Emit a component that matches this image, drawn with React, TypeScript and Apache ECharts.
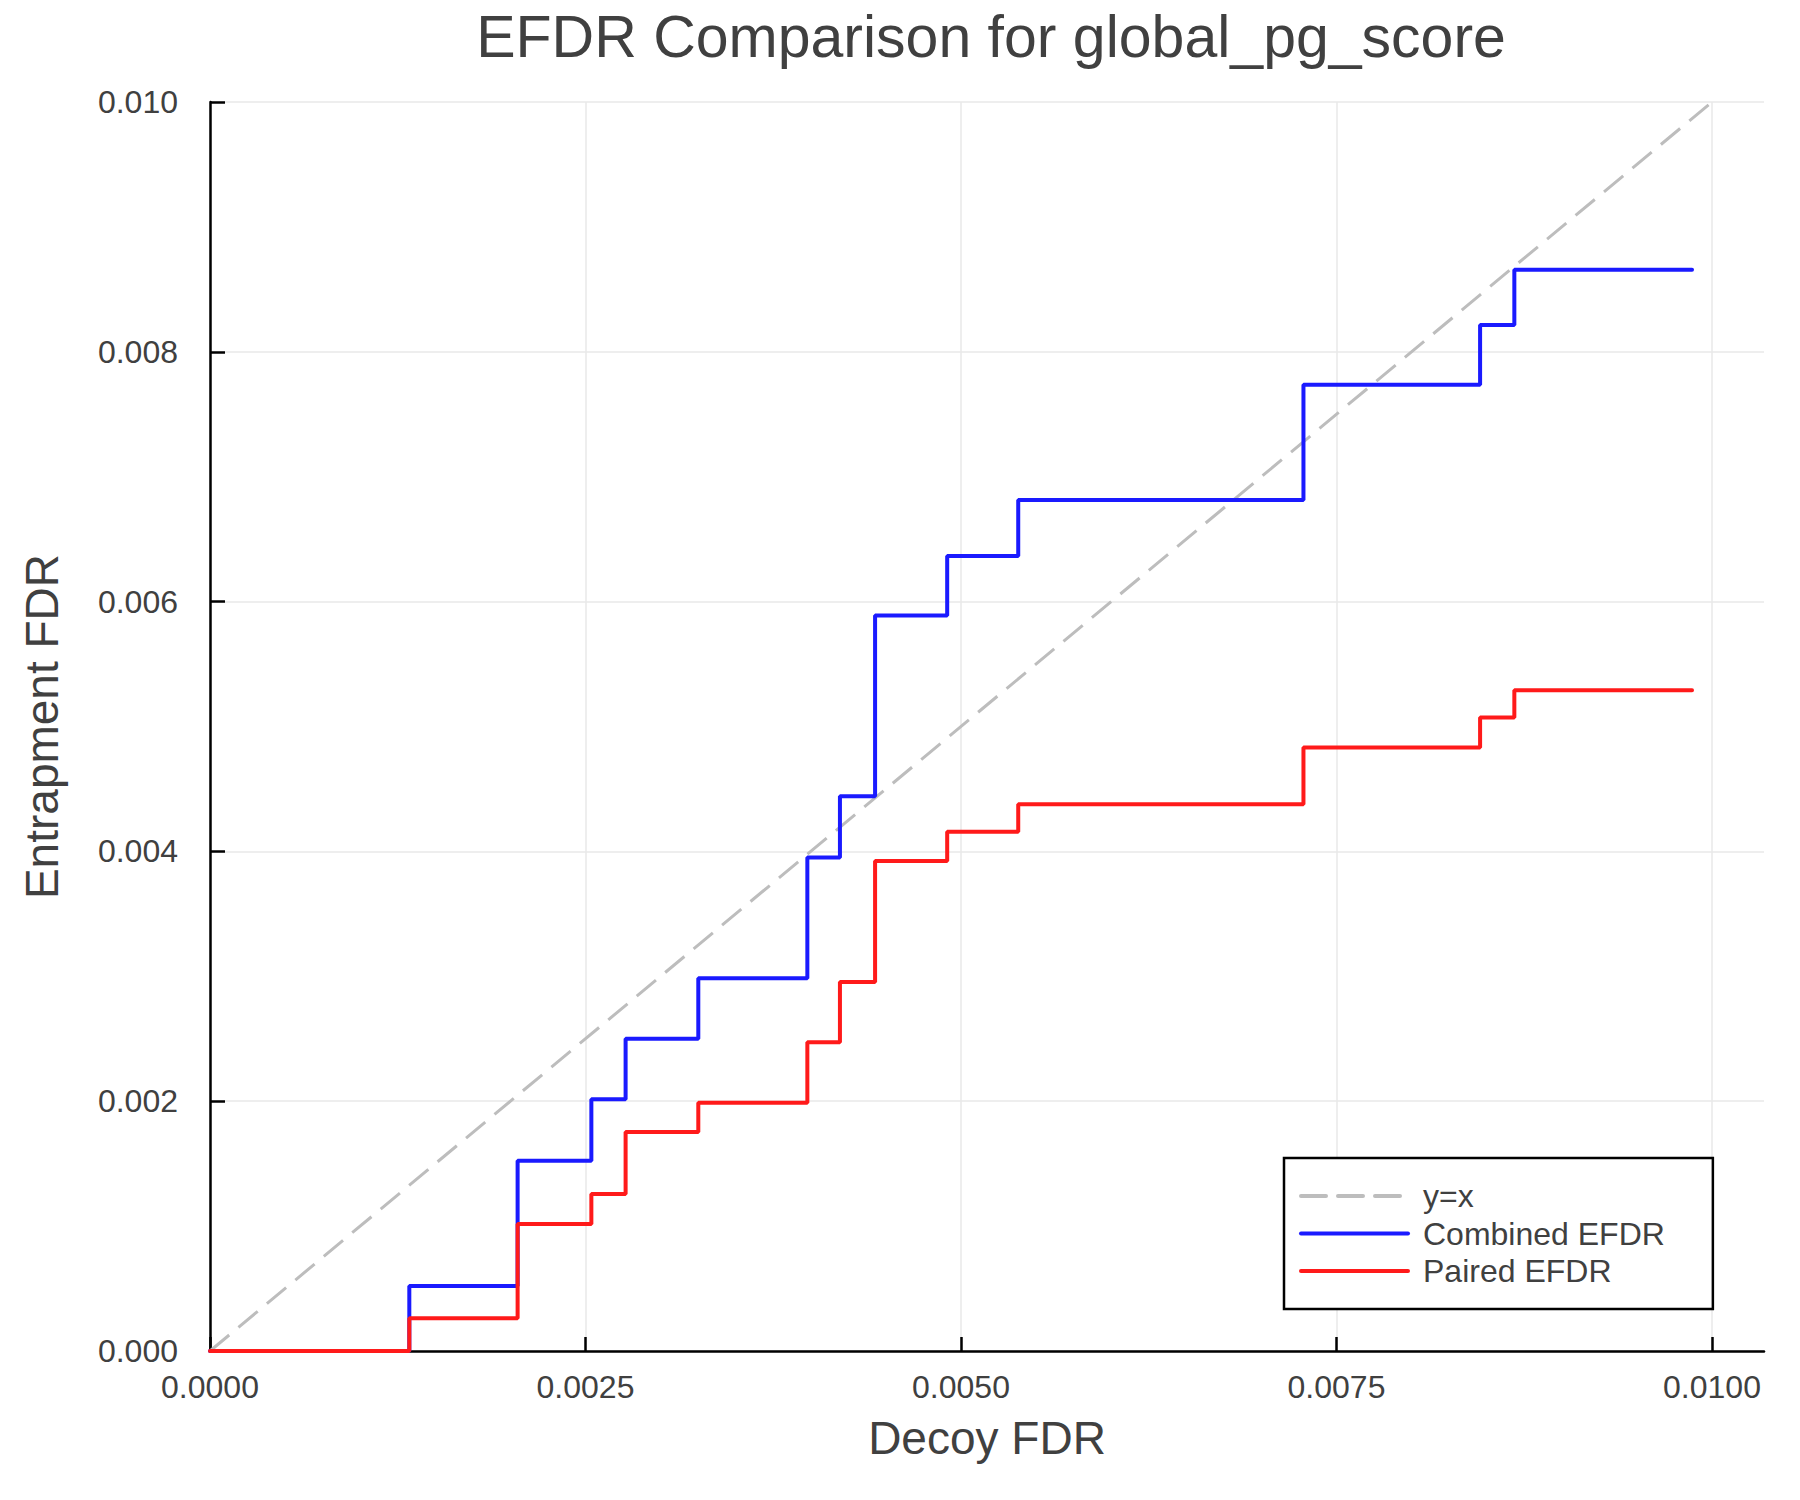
import React, { useEffect, useRef } from "react";
import * as echarts from "echarts";

// step positions (decoy FDR) and the EFDR level that starts at each of them
const decoyFdr = [
  0, 0.001327, 0.002048, 0.002539, 0.002767, 0.003251, 0.003977, 0.004194,
  0.004428, 0.004908, 0.005381, 0.00728, 0.008456, 0.008684, 0.009867,
];
const combinedEfdr = [
  0, 0.00052, 0.001524, 0.002015, 0.002501, 0.002984, 0.003952, 0.004442,
  0.005888, 0.006366, 0.006813, 0.007736, 0.008214, 0.008657, 0.008657,
];
const pairedEfdr = [
  0, 0.000262, 0.001017, 0.001257, 0.001753, 0.001988, 0.002471, 0.002955,
  0.003923, 0.004158, 0.004377, 0.004831, 0.005073, 0.00529, 0.00529,
];
const identityLine = [0, 0.01];
const xTicks = [0, 0.0025, 0.005, 0.0075, 0.01];
const yTicks = [0, 0.002, 0.004, 0.006, 0.008, 0.01];

const FONT = "'Liberation Sans', Arial, Helvetica, sans-serif";
const TEXT = "#404040";

export default function App() {
  const chartRef = useRef<HTMLDivElement>(null);

  useEffect(() => {
    document.body.style.margin = "0";
    if (!chartRef.current) return;
    const chart = echarts.init(chartRef.current, undefined, { renderer: "svg" });

    const zip = (xs: number[], ys: number[]) => xs.map((x, i) => [x, ys[i]]);

    chart.setOption({
      animation: false,
      backgroundColor: "#ffffff",
      textStyle: { fontFamily: FONT },
      title: {
        text: "EFDR Comparison for global_pg_score",
        left: 986,
        top: 2,
        textAlign: "center",
        textStyle: { fontSize: 59, fontWeight: "normal", color: TEXT, fontFamily: FONT },
      },
      grid: { left: 210, top: 102, right: 36, bottom: 149, containLabel: false },
      legend: {
        orient: "vertical",
        left: 1284,
        top: 1158,
        padding: [22, 48, 22, 15],
        itemWidth: 107,
        itemHeight: 14,
        itemGap: 5.5,
        borderColor: "#000000",
        borderWidth: 2.5,
        borderRadius: 0,
        backgroundColor: "#ffffff",
        itemStyle: { opacity: 0 },
        lineStyle: { width: 4, cap: "round" },
        data: ["y=x", "Combined EFDR", "Paired EFDR"],
        textStyle: { fontSize: 32, color: TEXT, fontFamily: FONT, padding: [0, 0, 0, 10] },
      },
      xAxis: {
        type: "value",
        min: 0,
        max: 0.0103462,
        interval: 0.0025,
        name: "Decoy FDR",
        nameLocation: "middle",
        nameGap: 64,
        nameTextStyle: { fontSize: 46, color: TEXT, fontFamily: FONT },
        axisLine: { onZero: false, lineStyle: { color: "#000000", width: 2.5 } },
        axisTick: { inside: true, length: 14, customValues: xTicks, lineStyle: { color: "#000000", width: 2.5 } },
        axisLabel: {
          customValues: xTicks,
          margin: 20,
          fontSize: 32,
          color: TEXT,
          fontFamily: FONT,
          formatter: (v: number) => v.toFixed(4),
        },
        splitLine: { show: true, lineStyle: { color: "#e8e8e8", width: 1.5 } },
      },
      yAxis: {
        type: "value",
        min: 0,
        max: 0.01,
        interval: 0.002,
        name: "Entrapment FDR",
        nameLocation: "middle",
        nameRotate: 90,
        nameGap: 145,
        nameTextStyle: { fontSize: 46, color: TEXT, fontFamily: FONT },
        axisLine: { onZero: false, lineStyle: { color: "#000000", width: 2.5 } },
        axisTick: { inside: true, length: 15, customValues: yTicks, lineStyle: { color: "#000000", width: 2.5 } },
        axisLabel: {
          customValues: yTicks,
          margin: 32,
          fontSize: 32,
          color: TEXT,
          fontFamily: FONT,
          formatter: (v: number) => v.toFixed(3),
        },
        splitLine: { show: true, lineStyle: { color: "#e8e8e8", width: 1.5 } },
      },
      series: [
        {
          name: "y=x",
          type: "line",
          data: zip(identityLine, identityLine),
          symbol: "none",
          lineStyle: { color: "#bdbdbd", width: 3, type: [25, 12] },
          itemStyle: { color: "#bdbdbd" },
        },
        {
          name: "Combined EFDR",
          type: "line",
          step: "end",
          data: zip(decoyFdr, combinedEfdr),
          symbol: "none",
          lineStyle: { color: "#1a1aff", width: 4, cap: "round" },
          itemStyle: { color: "#1a1aff" },
        },
        {
          name: "Paired EFDR",
          type: "line",
          step: "end",
          data: zip(decoyFdr, pairedEfdr),
          symbol: "none",
          lineStyle: { color: "#ff1a1a", width: 4, cap: "round" },
          itemStyle: { color: "#ff1a1a" },
        },
      ],
    });

    return () => {
      chart.dispose();
    };
  }, []);

  return <div ref={chartRef} style={{ width: 1800, height: 1500 }} />;
}
